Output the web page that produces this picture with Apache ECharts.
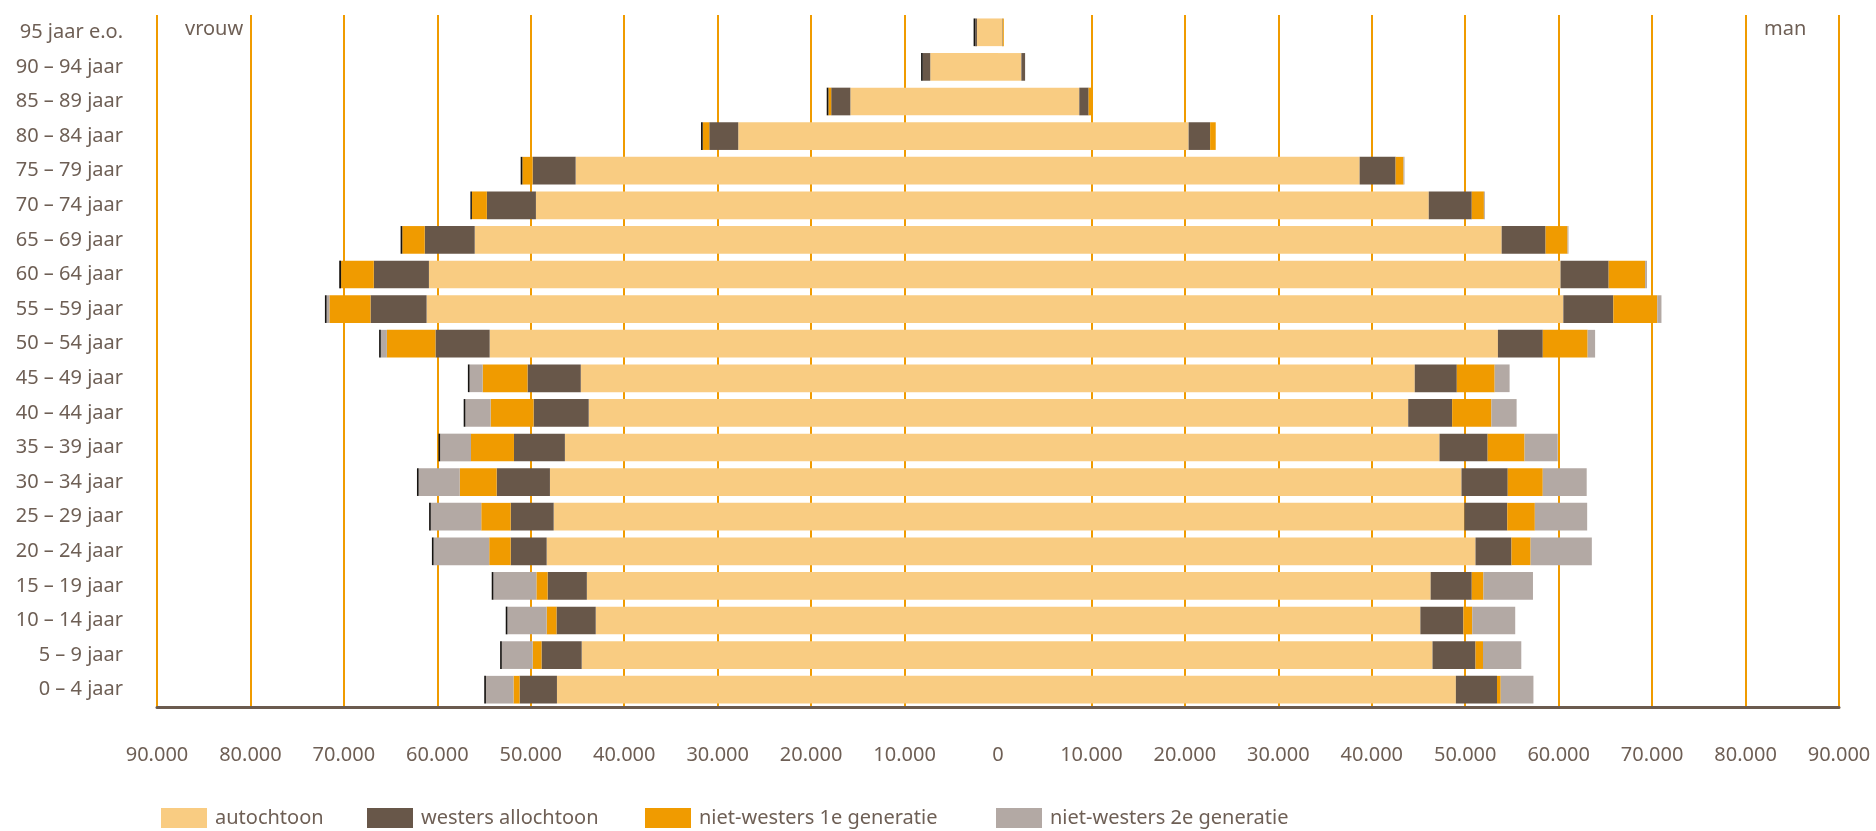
<!DOCTYPE html>
<html>
<head>
<meta charset="utf-8">
<script src="https://cdn.jsdelivr.net/npm/echarts@6/dist/echarts.min.js"></script>
<style>
html,body{margin:0;padding:0;background:#fff;}
#chart{width:1876px;height:831px;}
</style>
</head>
<body>
<div id="chart"></div>
<script>
// Categories, top to bottom
const categories = ['95 jaar e.o.','90 – 94 jaar','85 – 89 jaar','80 – 84 jaar','75 – 79 jaar','70 – 74 jaar','65 – 69 jaar','60 – 64 jaar','55 – 59 jaar','50 – 54 jaar','45 – 49 jaar','40 – 44 jaar','35 – 39 jaar','30 – 34 jaar','25 – 29 jaar','20 – 24 jaar','15 – 19 jaar','10 – 14 jaar','5 – 9 jaar','0 – 4 jaar'];

const seriesNames = ['autochtoon','westers allochtoon','niet-westers 1e generatie','niet-westers 2e generatie'];

// vrouw (left side)
const vrouwAutochtoon = [2250,7250,15800,27800,45200,49450,56000,60900,61150,54400,44650,43800,46350,47950,47550,48300,44000,43050,44550,47200];
const vrouwWesters    = [180,800,2050,3100,4600,5250,5350,5900,6000,5800,5700,5900,5450,5700,4600,3850,4200,4200,4300,4000];
const vrouwNW1        = [0,0,300,700,1100,1600,2400,3500,4400,5200,4800,4600,4600,3950,3150,2300,1200,1050,950,650];
const vrouwNW2        = [0,0,0,0,0,0,0,0,300,650,1400,2700,3300,4400,5400,5950,4600,4200,3300,2950];
const vrouwRand       = [180,180,180,180,180,160,180,200,180,180,180,180,180,180,180,180,180,180,180,180];

// man (right side)
const manAutochtoon = [450,2500,8700,20400,38700,46100,53900,60200,60500,53500,44600,43900,47250,49600,49900,51100,46300,45200,46500,49000];
const manWesters    = [50,400,1000,2300,3850,4600,4700,5150,5350,4800,4500,4700,5150,4950,4600,3850,4400,4600,4600,4400];
const manNW1        = [120,0,250,600,850,1300,2350,3900,4700,4800,4050,4200,3950,3750,2950,2050,1250,950,800,400];
const manNW2        = [0,0,0,0,100,100,100,200,450,800,1600,2700,3550,4700,5600,6550,5300,4600,4100,3500];

const colors = ['#F9CC82','#685749','#F09B00','#B3A9A4'];
const TXT = '#6e5f55';
const FONT = 'Noto Sans';

function fmt(v){ return Math.abs(v).toString().replace(/\B(?=(\d{3})+(?!\d))/g,'.'); }

const vrouwSets = [vrouwAutochtoon, vrouwWesters, vrouwNW1, vrouwNW2];
const manSets = [manAutochtoon, manWesters, manNW1, manNW2];

const series = [];
vrouwSets.forEach((arr,i)=>{
  series.push({
    name: seriesNames[i], type:'bar', stack:'p', stackStrategy:'samesign',
    barCategoryGap:'20%', itemStyle:{color:colors[i]},
    emphasis:{disabled:true},
    data: arr.map(v=>-v)
  });
});
series.push({
  name:'rand', type:'bar', stack:'p', stackStrategy:'samesign',
  itemStyle:{color:'#161310'}, emphasis:{disabled:true},
  data: vrouwRand.map(v=>-v)
});
manSets.forEach((arr,i)=>{
  series.push({
    name: seriesNames[i], type:'bar', stack:'p', stackStrategy:'samesign',
    itemStyle:{color:colors[i]},
    emphasis:{disabled:true},
    data: arr.slice()
  });
});

const gridColors = [];
for (let i=0;i<19;i++) gridColors.push(i===9 ? 'rgba(0,0,0,0)' : '#F09B00');

const legendLeft = [161,367,645,996];

const option = {
  animation:false,
  backgroundColor:'#fff',
  textStyle:{fontFamily:FONT},
  grid:{left:157,right:37,top:15,bottom:124,containLabel:false},
  xAxis:{
    type:'value', min:-90000, max:90000, interval:10000,
    axisLine:{show:true,lineStyle:{color:'#6b5b4f',width:3}},
    axisTick:{show:false},
    axisLabel:{formatter:fmt,color:TXT,fontSize:20,fontFamily:FONT,margin:38},
    splitLine:{show:true,lineStyle:{color:gridColors,width:2}}
  },
  yAxis:{
    type:'category', inverse:true, data:categories,
    axisLine:{show:false}, axisTick:{show:false},
    axisLabel:{color:TXT,fontSize:20,fontFamily:FONT,margin:34,padding:[0,0,9,0]},
    splitLine:{show:false}
  },
  legend: seriesNames.map((n,i)=>({
    data:[n], left:legendLeft[i], top:808, padding:0, itemGap:0,
    itemWidth:46, itemHeight:20, icon:'rect',
    textStyle:{color:TXT,fontSize:20,fontFamily:FONT,padding:[0,0,0,3]}
  })),
  graphic:[
    {type:'text', left:185, top:19, style:{text:'vrouw', fill:TXT, font:'20px "Noto Sans"'}},
    {type:'text', left:1764, top:19, style:{text:'man', fill:TXT, font:'20px "Noto Sans"'}}
  ],
  series: series
};

const chart = echarts.init(document.getElementById('chart'), null, {renderer:'canvas'});
chart.setOption(option);
</script>
</body>
</html>
